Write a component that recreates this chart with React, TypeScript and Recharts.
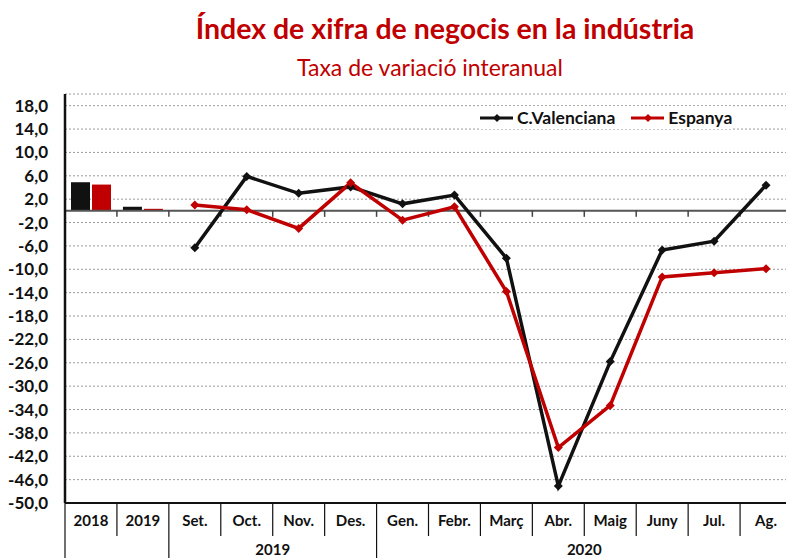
import { ComposedChart, Bar, Line, XAxis, YAxis, CartesianGrid, ReferenceLine } from 'recharts';

const categories = ['2018', '2019', 'Set.', 'Oct.', 'Nov.', 'Des.', 'Gen.', 'Febr.', 'Març', 'Abr.', 'Maig', 'Juny', 'Jul.', 'Ag.'];
const annualCV = [4.9, 0.7];
const annualES = [4.5, 0.35];
const monthlyCV = [-6.3, 5.9, 3.0, 4.1, 1.2, 2.7, -8.1, -47.1, -25.8, -6.7, -5.2, 4.4];
const monthlyES = [1.0, 0.2, -3.0, 4.8, -1.6, 0.7, -13.8, -40.5, -33.3, -11.3, -10.6, -9.9];
const groups = [
  { label: '2019', start: 2, end: 5 },
  { label: '2020', start: 6, end: 13 },
];
const yTicks = [-50, -46, -42, -38, -34, -30, -26, -22, -18, -14, -10, -6, -2, 2, 6, 10, 14, 18];

const data = categories.map((cat, i) => ({
  cat,
  barCV: i < annualCV.length ? annualCV[i] : null,
  barES: i < annualES.length ? annualES[i] : null,
  lineCV: i >= annualCV.length ? monthlyCV[i - annualCV.length] : null,
  lineES: i >= annualES.length ? monthlyES[i - annualES.length] : null,
}));

const W = 800;
const H = 558;
const Y_AXIS_W = 65;
const M_RIGHT = 8;
const M_TOP = 94;
const X_AXIS_H = 55;
const PLOT_BOTTOM = H - X_AXIS_H;
const BAND = (W - M_RIGHT - Y_AXIS_W) / categories.length;

const BLACK = '#111111';
const RED = '#C00000';
const FONT = 'Lato, sans-serif';

const fmt = (v: number) => v.toFixed(1).replace('.', ',');

function Diamond(props: any) {
  const { cx, cy, fill } = props;
  if (cx == null || cy == null) return null;
  const r = 4.5;
  return <polygon points={`${cx},${cy - r} ${cx + r},${cy} ${cx},${cy + r} ${cx - r},${cy}`} fill={fill} />;
}

function CatTick(props: any) {
  const { x, payload } = props;
  const i = payload.index;
  const left = x - BAND / 2;
  const groupStart = i === 0 || groups.some((g) => g.start === i);
  const grp = groups.find((g) => g.start === i);
  return (
    <g>
      <line x1={left} y1={PLOT_BOTTOM} x2={left} y2={groupStart ? H : PLOT_BOTTOM + 33} stroke={BLACK} strokeWidth={1.2} />
      <text x={x} y={PLOT_BOTTOM + 23} textAnchor="middle" fontFamily={FONT} fontWeight={700} fontSize={15} fill={BLACK}>
        {payload.value}
      </text>
      {grp && (
        <text
          x={left + ((grp.end - grp.start + 1) * BAND) / 2}
          y={PLOT_BOTTOM + 52}
          textAnchor="middle"
          fontFamily={FONT}
          fontWeight={700}
          fontSize={15}
          fill={BLACK}
        >
          {grp.label}
        </text>
      )}
    </g>
  );
}

function ZeroLine(props: any) {
  const { x1, y1, x2 } = props;
  const marks = [];
  for (let k = 1; k < categories.length; k++) {
    const x = x1 + k * BAND;
    marks.push(<line key={k} x1={x} y1={y1} x2={x} y2={y1 + 6} stroke="#444" strokeWidth={1.5} />);
  }
  return (
    <g>
      <line x1={x1} y1={y1} x2={x2} y2={y1} stroke="#555" strokeWidth={2} />
      {marks}
    </g>
  );
}

function LegendBox() {
  const item = (color: string, label: string, gap: number) => (
    <div style={{ display: 'flex', alignItems: 'center', marginRight: gap }}>
      <svg width={33} height={12} style={{ marginRight: 4 }}>
        <line x1={0} y1={6} x2={33} y2={6} stroke={color} strokeWidth={3} />
        <polygon points="17,2 21,6 17,10 13,6" fill={color} />
      </svg>
      <span style={{ fontFamily: FONT, fontWeight: 700, fontSize: 17.5, color: BLACK }}>{label}</span>
    </div>
  );
  return (
    <div style={{ position: 'absolute', top: 106, left: 480, display: 'flex', background: '#fff', padding: '1px 0' }}>
      {item(BLACK, 'C.Valenciana', 16)}
      {item(RED, 'Espanya', 0)}
    </div>
  );
}

export default function App() {
  return (
    <div style={{ position: 'absolute', left: 0, top: 0, width: 786, height: 558, overflow: 'hidden', background: '#fff' }}>
      <div
        style={{
          position: 'absolute', left: 0, top: 11, width: 890, textAlign: 'center',
          fontFamily: FONT, fontWeight: 700, fontSize: 28.5, color: RED, whiteSpace: 'nowrap',
        }}
      >
        Índex de xifra de negocis en la indústria
      </div>
      <div
        style={{
          position: 'absolute', left: 0, top: 53, width: 860, textAlign: 'center',
          fontFamily: FONT, fontSize: 23, color: RED, whiteSpace: 'nowrap',
        }}
      >
        Taxa de variació interanual
      </div>
      <div style={{ position: 'absolute', left: 0, top: 0 }}>
        <ComposedChart
          width={W}
          height={H}
          data={data}
          margin={{ top: M_TOP, right: M_RIGHT, left: 0, bottom: 0 }}
          barGap={2}
          barSize={19}
        >
          <CartesianGrid horizontal vertical={false} stroke="#9a9a9a" strokeDasharray="2 2" />
          <XAxis
            dataKey="cat"
            height={X_AXIS_H}
            axisLine={{ stroke: BLACK, strokeWidth: 2 }}
            tickLine={false}
            interval={0}
            tick={<CatTick />}
          />
          <XAxis xAxisId="top" dataKey="cat" orientation="top" height={0} tick={false} tickLine={false} axisLine={{ stroke: BLACK, strokeWidth: 2 }} />
          <YAxis
            domain={[-50, 20]}
            ticks={yTicks}
            width={Y_AXIS_W}
            interval={0}
            axisLine={{ stroke: BLACK, strokeWidth: 2.5 }}
            tickLine={false}
            tickFormatter={fmt}
            tick={{ fontFamily: FONT, fontWeight: 700, fontSize: 17, fill: BLACK }}
            tickMargin={11}
          />
          <ReferenceLine y={0} shape={<ZeroLine />} />
          <Bar dataKey="barCV" name="C.Valenciana" fill={BLACK} isAnimationActive={false} />
          <Bar dataKey="barES" name="Espanya" fill={RED} isAnimationActive={false} />
          <Line
            dataKey="lineCV"
            name="C.Valenciana"
            stroke={BLACK}
            strokeWidth={3.5}
            dot={<Diamond fill={BLACK} />}
            activeDot={false}
            isAnimationActive={false}
          />
          <Line
            dataKey="lineES"
            name="Espanya"
            stroke={RED}
            strokeWidth={3.5}
            dot={<Diamond fill={RED} />}
            activeDot={false}
            isAnimationActive={false}
          />
        </ComposedChart>
      </div>
      <LegendBox />
    </div>
  );
}
